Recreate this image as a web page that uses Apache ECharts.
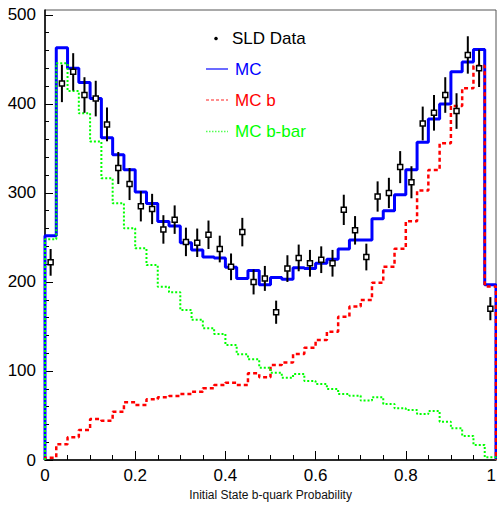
<!DOCTYPE html>
<html><head><meta charset="utf-8">
<script src="https://cdn.jsdelivr.net/npm/echarts@6/dist/echarts.min.js"></script>
<style>html,body{margin:0;padding:0;background:#fff}#c{width:497px;height:506px}</style>
</head><body><div id="c"></div>
<script>
// Bin edges of the 40-bin histogram (x = initial state b-quark probability)
const binEdges = [0,0.025,0.05,0.075,0.1,0.125,0.15,0.175,0.2,0.225,0.25,0.275,0.3,0.325,0.35,0.375,0.4,0.425,0.45,0.475,0.5,
  0.525,0.55,0.575,0.6,0.625,0.65,0.675,0.7,0.725,0.75,0.775,0.8,0.825,0.85,0.875,0.9,0.925,0.95,0.975,1];
// SLD Data (points with error bars)
const dataValues = [222,423,436,410,406,377,328,310,285,282,259,270,245,244,253,237,217,256,200,204,
  166,215,227,221,225,221,281,258,228,296,300,329,312,378,390,410,392,455,440,170];
const dataErrors = [15,21,21,20,20,19,18,18,17,17,16,16,16,16,16,15,15,16,14,14,
  13,15,15,15,15,15,17,16,15,17,17,18,18,19,20,20,20,21,21,13];
// MC (total)
const mcValues = [252,463,440,424,406,362,343,326,301,288,268,263,244,236,228,227,216.5,204,213,197,
  205,203,216,215,221,225.5,237,247,247,271,280,298,326,357,383,400,436,447,461,197];
// MC b
const mcbValues = [2.6,17.6,25.5,33.7,46,44.2,54.3,64.8,61.8,68.2,70.4,71.9,74.2,76.8,80.5,84.3,86.9,84.3,97.4,92.9,
  106.7,109.4,119.1,126.2,134.8,144.2,161,172.3,179.8,199.2,217.2,237.4,268.2,302.6,325.8,355.8,397.8,417.6,443,195];
// MC b-bar
const mcbbarValues = [248,445.7,414.6,389.5,357.7,316.5,288.4,260.3,237.8,219,194.7,188.4,168.5,157.5,148,141.6,129.2,118.7,113.1,103.7,
  98.1,92.5,96.6,88.8,85.5,79.8,74.2,72.3,66.7,70.4,62.9,58,56.2,51.7,55,43,35.6,27,16.9,3];
const yMajorTicks = [0,100,200,300,400,500];
const yMinorTicks = [0,20,40,60,80,100,120,140,160,180,200,220,240,260,280,300,320,340,360,380,400,420,440,460,480,500];
const xAxisTitle = 'Initial State b-quark Probability';
const legendLabels = ['SLD Data','MC','MC b','MC b-bar'];

const FONT = '"Liberation Sans", Arial, Helvetica, sans-serif';

function histPoints(vals){
  const p = [[binEdges[0], 0]];
  vals.forEach((v,i)=>{ p.push([binEdges[i], v], [binEdges[i+1], v]); });
  p.push([binEdges[binEdges.length-1], 0]);
  return p;
}
const centers = binEdges.slice(0,-1).map((e,i)=>(e+binEdges[i+1])/2);
const dataPts = centers.map((c,i)=>[c, dataValues[i], dataErrors[i]]);

const chart = echarts.init(document.getElementById('c'), null, {renderer:'svg'});
const option = {
  animation:false,
  backgroundColor:'#fff',
  grid:{left:45,right:1,top:10,bottom:46,show:true,borderColor:'#555',borderWidth:1,backgroundColor:'transparent',
        containLabel:false,outerBoundsMode:'none'},
  xAxis:{
    type:'value',min:0,max:1,interval:0.2,
    name:xAxisTitle,nameLocation:'middle',nameGap:28,
    nameTextStyle:{fontFamily:FONT,fontSize:12,color:'#111'},
    axisLine:{show:true,lineStyle:{color:'#000',width:1.5}},
    axisTick:{show:true,inside:true,length:9,lineStyle:{color:'#000',width:1}},
    minorTick:{show:true,splitNumber:4,length:5,lineStyle:{color:'#000',width:1}},
    axisLabel:{fontFamily:FONT,fontSize:17,color:'#000',margin:7,alignMaxLabel:'right',
               formatter:v=>String(+v.toFixed(2))},
    splitLine:{show:false}
  },
  yAxis:[{
    type:'value',min:0,max:505.5,position:'left',
    axisLine:{show:true,lineStyle:{color:'#000',width:1.5}},
    axisTick:{show:true,inside:true,length:8,customValues:yMajorTicks,lineStyle:{color:'#000',width:1}},
    axisLabel:{fontFamily:FONT,fontSize:17,color:'#000',margin:9,customValues:yMajorTicks},
    splitLine:{show:false}
  },{
    type:'value',min:0,max:505.5,position:'left',offset:0,
    axisLine:{show:false},
    axisTick:{show:true,inside:true,length:4,customValues:yMinorTicks,lineStyle:{color:'#000',width:1}},
    axisLabel:{show:false},
    splitLine:{show:false}
  }],
  series:[
    {name:'MC',type:'line',data:histPoints(mcValues),showSymbol:false,symbol:'none',
     lineStyle:{color:'#0000ff',width:3},z:2},
    {name:'MC b',type:'line',data:histPoints(mcbValues),showSymbol:false,symbol:'none',
     lineStyle:{color:'#ff0000',width:2.5,type:[4,3]},z:3},
    {name:'MC b-bar',type:'line',data:histPoints(mcbbarValues),showSymbol:false,symbol:'none',
     lineStyle:{color:'#00ff00',width:2,type:[2,2]},z:4},
    {name:'errors',type:'custom',data:dataPts,z:5,
     encode:{x:0,y:1},
     renderItem:(params,api)=>{
       const x=api.value(0), v=api.value(1), e=api.value(2);
       const p1=api.coord([x,v-e]), p2=api.coord([x,v+e]);
       return {type:'line',shape:{x1:p1[0],y1:p1[1],x2:p2[0],y2:p2[1]},style:{stroke:'#000',lineWidth:2}};
     }},
    {name:'SLD Data',type:'scatter',data:dataPts.map(d=>[d[0],d[1]]),symbol:'rect',symbolSize:5,z:6,
     itemStyle:{color:'#fff',borderColor:'#000',borderWidth:1.5,opacity:1}}
  ],
  graphic:[
    {type:'circle',shape:{cx:216,cy:38.5,r:1.8},style:{fill:'#000'},z:100},
    {type:'text',x:232,y:38.5,style:{text:legendLabels[0],font:'17px '+FONT,fill:'#000',verticalAlign:'middle'},z:100},
    {type:'line',shape:{x1:206,y1:69,x2:228,y2:69},style:{stroke:'#6b6bff',lineWidth:2},z:100},
    {type:'text',x:235,y:69,style:{text:legendLabels[1],font:'17px '+FONT,fill:'#0000ff',verticalAlign:'middle'},z:100},
    {type:'line',shape:{x1:206,y1:100,x2:228,y2:100},style:{stroke:'#ff6b6b',lineWidth:1.5,lineDash:[3,2]},z:100},
    {type:'text',x:235,y:100,style:{text:legendLabels[2],font:'17px '+FONT,fill:'#ff0000',verticalAlign:'middle'},z:100},
    {type:'line',shape:{x1:206,y1:131.5,x2:228,y2:131.5},style:{stroke:'#55ff55',lineWidth:1.5,lineDash:[1.5,1.5]},z:100},
    {type:'text',x:235,y:131.5,style:{text:legendLabels[3],font:'17px '+FONT,fill:'#00ff00',verticalAlign:'middle'},z:100}
  ]
};
chart.setOption(option);
</script>
</body></html>
